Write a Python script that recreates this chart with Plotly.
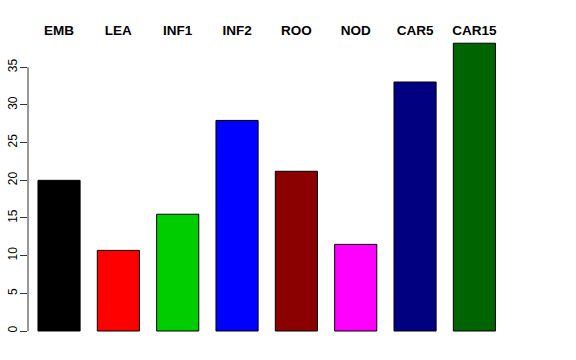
import plotly.graph_objects as go

categories = ["EMB", "LEA", "INF1", "INF2", "ROO", "NOD", "CAR5", "CAR15"]
values = [20.0, 10.7, 15.5, 27.95, 21.2, 11.5, 33.05, 38.2]
colors = ["#000000", "#FF0000", "#00CD00", "#0000FF", "#8B0000", "#FF00FF", "#000080", "#006400"]
y_ticks = [0, 5, 10, 15, 20, 25, 30, 35]

xpos = list(range(len(categories)))

fig = go.Figure()
fig.add_trace(go.Bar(
    x=xpos, y=values, width=0.71,
    marker=dict(color=colors, line=dict(color="#000000", width=1)),
    hoverinfo="skip",
))

fig.update_layout(
    width=576, height=360,
    margin=dict(l=28, r=66, t=35, b=17),
    paper_bgcolor="white", plot_bgcolor="white",
    showlegend=False,
    font=dict(family="Liberation Sans, Arial, sans-serif", color="black"),
    xaxis=dict(
        range=[-0.523, 7.6], side="top", automargin=False,
        tickmode="array", tickvals=xpos,
        ticktext=["<b>%s</b>" % c for c in categories],
        tickfont=dict(size=13.5, color="black"),
        ticks="", showgrid=False, zeroline=False, showline=False,
        ticklabelstandoff=-4,
    ),
    yaxis=dict(
        range=[-1.593, 39.29], automargin=False,
        tickmode="array", tickvals=y_ticks,
        ticktext=[str(v) for v in y_ticks],
        tickangle=-90, tickfont=dict(size=12, color="black"),
        ticks="outside", ticklen=7, tickwidth=1, tickcolor="#333333",
        showgrid=False, zeroline=False, showline=False,
        ticklabelstandoff=-2,
    ),
    shapes=[dict(type="line", xref="paper", yref="y", x0=0, x1=0, y0=0, y1=35,
                 line=dict(color="#333333", width=1))],
)

fig.write_html("out.html", config={"displayModeBar": False},
               post_script="document.body.style.margin='0';")
